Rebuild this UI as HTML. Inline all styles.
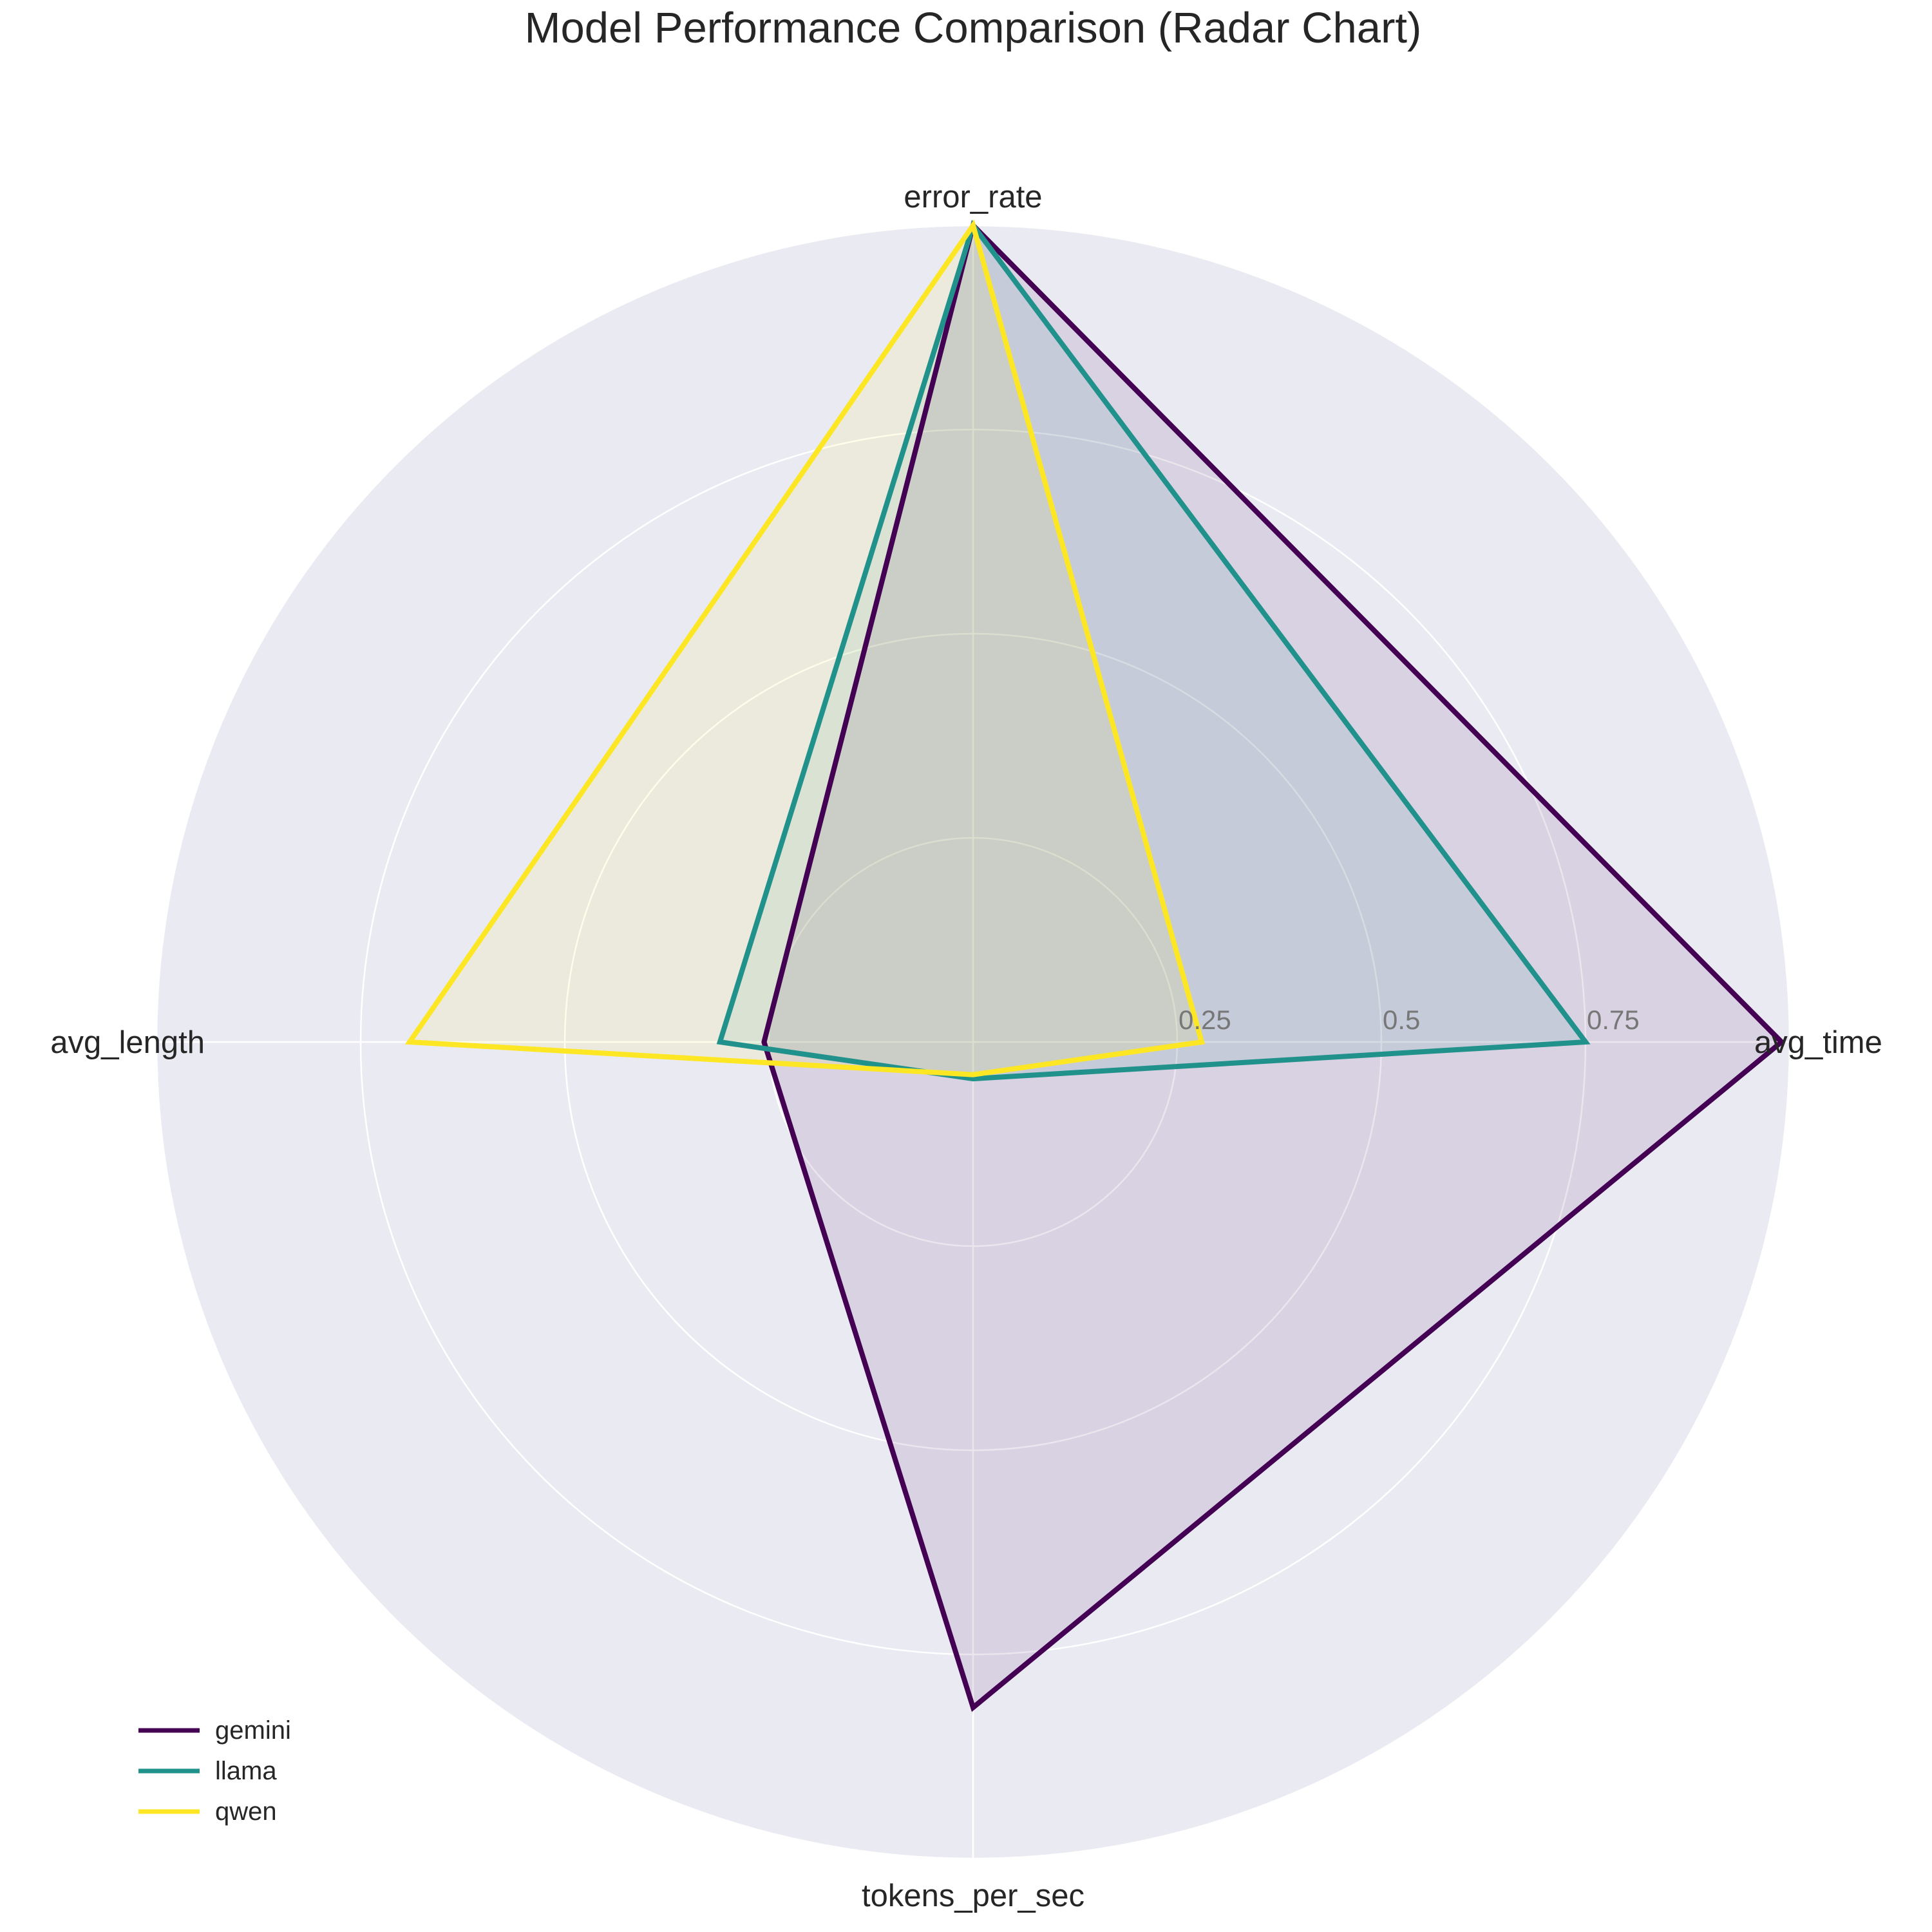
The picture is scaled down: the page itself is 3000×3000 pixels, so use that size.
<!DOCTYPE html>
<html><head><meta charset="utf-8"><style>
html,body{margin:0;padding:0;background:#fff}
svg{display:block}
text{font-family:"Liberation Sans",sans-serif}
</style></head><body>
<svg id="chart" width="3000" height="3000" viewBox="0 0 3000 3000" xmlns="http://www.w3.org/2000/svg">
<text x="1511" y="66" font-size="67" text-anchor="middle" fill="#262626">Model Performance Comparison (Radar Chart)</text>
<g id="plot"></g>
<g id="legend"></g>
</svg>
<script>
const categories = ["error_rate","avg_time","tokens_per_sec","avg_length"];
const seriesNames = ["gemini","llama","qwen"];
const gemini = [1.0, 0.99, 0.815, 0.256];
const llama = [1.0, 0.75, 0.045, 0.31];
const qwen = [1.0, 0.28, 0.04, 0.69];
const tickLabels = ["0.25","0.5","0.75"];
const tickValues = [0.25,0.5,0.75];

const seriesData = [gemini, llama, qwen];
const colors = ["#440154","#21918c","#fde725"];
const CX=1511, CY=1618, R=1268;
const NS="http://www.w3.org/2000/svg";
const plot=document.getElementById('plot');
function mk(tag, attrs, parent){const e=document.createElementNS(NS,tag);for(const k in attrs)e.setAttribute(k,attrs[k]);parent.appendChild(e);return e;}
function ang(i){return -Math.PI/2 + i*2*Math.PI/categories.length;}
function pt(i,v){const a=ang(i);return [CX+R*v*Math.cos(a), CY+R*v*Math.sin(a)];}

const bg=mk('circle',{cx:CX,cy:CY,r:R,fill:'#eaeaf2'},plot);


tickValues.concat([1]).forEach(v=>{
  const c=mk('circle',{cx:CX,cy:CY,r:R*v,fill:'none',stroke:'#fff','stroke-width':2.5},plot);
  
  
});
categories.forEach((c,i)=>{
  const [x,y]=pt(i,1);
  const l=mk('line',{x1:CX,y1:CY,x2:x,y2:y,stroke:'#fff','stroke-width':2.5},plot);
  
  
});
seriesData.forEach((d,s)=>{
  const pts=d.map((v,i)=>pt(i,v).join(',')).join(' ');
  const f=mk('polygon',{points:pts,fill:colors[s],'fill-opacity':0.1,stroke:'none'},plot);
  
  
});
seriesData.forEach((d,s)=>{
  const pts=d.map((v,i)=>pt(i,v).join(',')).join(' ');
  const p=mk('polygon',{points:pts,fill:'none',stroke:colors[s],'stroke-width':8,'stroke-linejoin':'miter'},plot);
  
  
});
tickValues.forEach((v,i)=>{
  const t=mk('text',{x:CX+R*v+2,y:CY-20,'font-size':42,fill:'#777'},plot);
  t.textContent=tickLabels[i];
  
  
});
const labelPos=[[CX,CY-R-28,'middle'],[CX+R-55,CY+17,'start'],[CX,CY+R+74,'middle'],[CX-R+75,CY+17,'end']];
categories.forEach((c,i)=>{
  const [x,y,a]=labelPos[i];
  const t=mk('text',{x:x,y:y,'font-size':49,fill:'#262626','text-anchor':a},plot);
  t.textContent=c;
  
  
});
const lg=document.getElementById('legend');
seriesNames.forEach((n,s)=>{
  const y=2687+s*63;
  const l=mk('line',{x1:215,y1:y,x2:310,y2:y,stroke:colors[s],'stroke-width':7},lg);
  
  
  const t=mk('text',{x:334,y:y+13,'font-size':40,fill:'#262626'},lg);
  t.textContent=n;
  
  
});
</script>
</body></html>
